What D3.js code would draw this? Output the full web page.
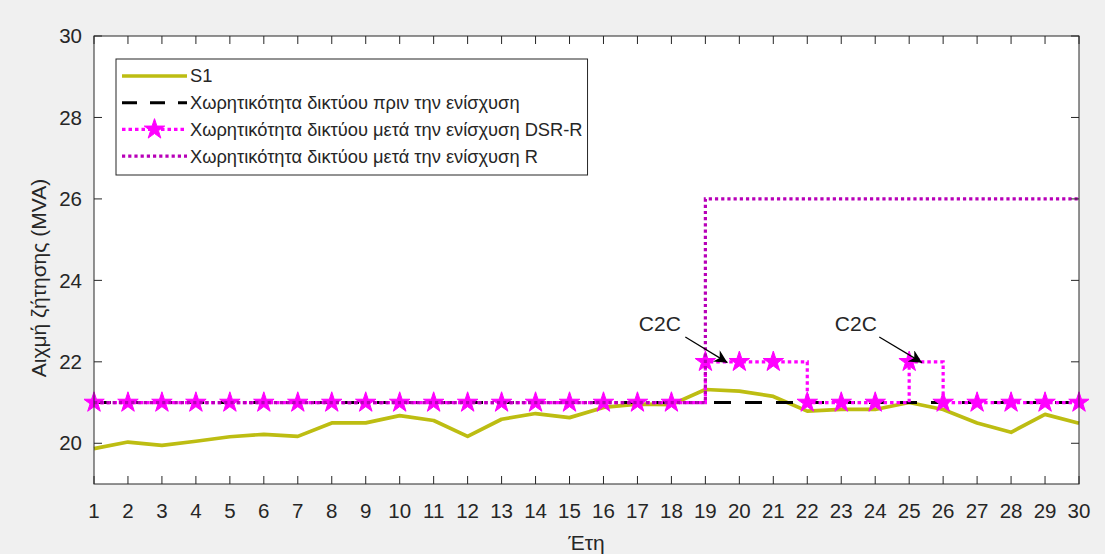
<!DOCTYPE html>
<html>
<head>
<meta charset="utf-8">
<script src="https://cdn.jsdelivr.net/npm/d3@7"></script>
<style>
  html, body { margin: 0; padding: 0; background: #f0f0f0; }
  svg { display: block; }
  text { font-family: "Liberation Sans", Arial, Helvetica, sans-serif; fill: #262626; }
</style>
</head>
<body>
<svg id="chart" width="1105" height="554"></svg>
<script>
// Years on the horizontal axis
const years = d3.range(1, 31);

// Peak demand of scenario S1 (MVA)
const s1 = [19.87, 20.03, 19.95, 20.05, 20.16, 20.22, 20.17, 20.50, 20.50, 20.68,
            20.56, 20.17, 20.59, 20.73, 20.63, 20.88, 20.96, 20.95, 21.32, 21.28,
            21.15, 20.79, 20.83, 20.83, 21.00, 20.83, 20.50, 20.27, 20.71, 20.49];

// Network capacity before reinforcement
const capBefore = [21, 21, 21, 21, 21, 21, 21, 21, 21, 21,
                   21, 21, 21, 21, 21, 21, 21, 21, 21, 21,
                   21, 21, 21, 21, 21, 21, 21, 21, 21, 21];

// Network capacity after DSR-R reinforcement
const capDsrR = [21, 21, 21, 21, 21, 21, 21, 21, 21, 21,
                 21, 21, 21, 21, 21, 21, 21, 21, 22, 22,
                 22, 21, 21, 21, 22, 21, 21, 21, 21, 21];

// Network capacity after R reinforcement
const capR = [21, 21, 21, 21, 21, 21, 21, 21, 21, 21,
              21, 21, 21, 21, 21, 21, 21, 21, 26, 26,
              26, 26, 26, 26, 26, 26, 26, 26, 26, 26];

const yTicks = [20, 22, 24, 26, 28, 30];

const legendLabels = [
  "S1",
  "Χωρητικότητα δικτύου πριν την ενίσχυση",
  "Χωρητικότητα δικτύου μετά την ενίσχυση DSR-R",
  "Χωρητικότητα δικτύου μετά την ενίσχυση R"
];

// Text callouts: label position and arrow from/to, in data units
const callouts = [
  { text: "C2C", tx: 17.66, ty: 22.94, x0: 18.41, y0: 22.61, x1: 19.65, y1: 21.98 },
  { text: "C2C", tx: 23.43, ty: 22.94, x0: 24.12, y0: 22.61, x1: 25.38, y1: 21.98 }
];

const svg = d3.select("#chart");
const plotLeft = 94, plotRight = 1079, plotTop = 36, plotBottom = 484;

const x = d3.scaleLinear().domain([1, 30]).range([plotLeft, plotRight]);
const y = d3.scaleLinear().domain([19, 30]).range([plotBottom, plotTop]);

const defs = svg.append("defs");

// Plot area
svg.append("rect")
  .attr("x", plotLeft).attr("y", plotTop)
  .attr("width", plotRight - plotLeft).attr("height", plotBottom - plotTop)
  .attr("fill", "#ffffff");

defs.append("clipPath").attr("id", "plotclip")
  .append("rect")
  .attr("x", plotLeft - 10).attr("y", plotTop)
  .attr("width", plotRight - plotLeft + 20).attr("height", plotBottom - plotTop);

const plot = svg.append("g").attr("clip-path", "url(#plotclip)");

const lineStraight = d3.line()
  .x((d, i) => x(years[i]))
  .y(d => y(d));

const lineStairs = d3.line()
  .x((d, i) => x(years[i]))
  .y(d => y(d))
  .curve(d3.curveStepAfter);

const colS1 = "#bdbd12", colDsr = "#ff00ff", colR = "#b800b8";

// S1 demand
plot.append("path")
  .datum(s1)
  .attr("d", lineStraight)
  .attr("fill", "none")
  .attr("stroke", colS1)
  .attr("stroke-width", 3.7)
  .attr("stroke-linejoin", "round");

// Capacity before reinforcement
plot.append("path")
  .datum(capBefore)
  .attr("d", lineStairs)
  .attr("fill", "none")
  .attr("stroke", "#000000")
  .attr("stroke-width", 3)
  .attr("stroke-dasharray", "17,14");

// Capacity after DSR-R
plot.append("path")
  .datum(capDsrR)
  .attr("d", lineStairs)
  .attr("fill", "none")
  .attr("stroke", colDsr)
  .attr("stroke-width", 3.2)
  .attr("stroke-dasharray", "3.5,3");

const star = d3.symbol().type(d3.symbolStar).size(130);
plot.append("g").selectAll("path")
  .data(capDsrR)
  .join("path")
  .attr("d", star)
  .attr("transform", (d, i) => `translate(${x(years[i])},${y(d)})`)
  .attr("fill", colDsr)
  .attr("stroke", colDsr)
  .attr("stroke-width", 1);

// Capacity after R
plot.append("path")
  .datum(capR)
  .attr("d", lineStairs)
  .attr("fill", "none")
  .attr("stroke", colR)
  .attr("stroke-width", 3.2)
  .attr("stroke-dasharray", "3.2,3");

// Axes box and inward ticks
const axisColor = "#262626";
const tickLen = 8;
const axes = svg.append("g");
axes.append("rect")
  .attr("x", plotLeft).attr("y", plotTop)
  .attr("width", plotRight - plotLeft).attr("height", plotBottom - plotTop)
  .attr("fill", "none")
  .attr("stroke", axisColor)
  .attr("stroke-width", 1);

const xTickG = axes.append("g");
years.forEach(v => {
  xTickG.append("line")
    .attr("x1", x(v)).attr("x2", x(v))
    .attr("y1", plotBottom).attr("y2", plotBottom - tickLen)
    .attr("stroke", axisColor);
  xTickG.append("line")
    .attr("x1", x(v)).attr("x2", x(v))
    .attr("y1", plotTop).attr("y2", plotTop + tickLen)
    .attr("stroke", axisColor);
  xTickG.append("text")
    .attr("x", x(v)).attr("y", plotBottom + 34)
    .attr("text-anchor", "middle")
    .attr("font-size", "20.5px")
    .text(v);
});

const yTickG = axes.append("g");
yTicks.forEach(v => {
  yTickG.append("line")
    .attr("x1", plotLeft).attr("x2", plotLeft + tickLen)
    .attr("y1", y(v)).attr("y2", y(v))
    .attr("stroke", axisColor);
  yTickG.append("line")
    .attr("x1", plotRight).attr("x2", plotRight - tickLen)
    .attr("y1", y(v)).attr("y2", y(v))
    .attr("stroke", axisColor);
  yTickG.append("text")
    .attr("x", plotLeft - 12).attr("y", y(v))
    .attr("dy", "0.35em")
    .attr("text-anchor", "end")
    .attr("font-size", "20.5px")
    .text(v);
});

// Axis titles
svg.append("text")
  .attr("x", (plotLeft + plotRight) / 2).attr("y", 550)
  .attr("text-anchor", "middle")
  .attr("font-size", "21px")
  .text("Έτη");

svg.append("text")
  .attr("transform", `translate(46,${(plotTop + plotBottom) / 2 + 18}) rotate(-90)`)
  .attr("text-anchor", "middle")
  .attr("font-size", "21px")
  .text("Αιχμή ζήτησης (MVA)");

// Callouts with arrows
defs.append("marker")
  .attr("id", "arrowhead")
  .attr("viewBox", "0 0 10 10")
  .attr("refX", 10).attr("refY", 5)
  .attr("markerUnits", "userSpaceOnUse")
  .attr("markerWidth", 18).attr("markerHeight", 13)
  .attr("orient", "auto")
  .append("path")
  .attr("d", "M0,0 L10,5 L0,10 L3,5 Z")
  .attr("fill", "#000");

const callG = svg.append("g");
callouts.forEach(c => {
  callG.append("text")
    .attr("x", x(c.tx)).attr("y", y(c.ty))
    .attr("dy", "0.35em")
    .attr("text-anchor", "middle")
    .attr("font-size", "21px")
    .text(c.text);
  callG.append("line")
    .attr("x1", x(c.x0)).attr("y1", y(c.y0))
    .attr("x2", x(c.x1)).attr("y2", y(c.y1))
    .attr("stroke", "#000")
    .attr("stroke-width", 1.2)
    .attr("marker-end", "url(#arrowhead)");
});

// Legend
const legX = 116, legY = 59, rowH = 26.7;
const legend = svg.append("g");
const legBox = legend.append("rect")
  .attr("x", legX).attr("y", legY)
  .attr("height", 116)
  .attr("fill", "#ffffff")
  .attr("stroke", axisColor)
  .attr("stroke-width", 1);

const rowY = i => legY + 17 + i * rowH;
const sx0 = legX + 6, sx1 = legX + 71;

legend.append("line")
  .attr("x1", sx0).attr("x2", sx1).attr("y1", rowY(0)).attr("y2", rowY(0))
  .attr("stroke", colS1).attr("stroke-width", 3.7);
legend.append("line")
  .attr("x1", sx0).attr("x2", sx1).attr("y1", rowY(1)).attr("y2", rowY(1))
  .attr("stroke", "#000").attr("stroke-width", 3).attr("stroke-dasharray", "15,13");
legend.append("line")
  .attr("x1", sx0).attr("x2", sx1).attr("y1", rowY(2)).attr("y2", rowY(2))
  .attr("stroke", colDsr).attr("stroke-width", 3.2).attr("stroke-dasharray", "3.5,3");
legend.append("path")
  .attr("d", star)
  .attr("transform", `translate(${(sx0 + sx1) / 2},${rowY(2)})`)
  .attr("fill", colDsr).attr("stroke", colDsr);
legend.append("line")
  .attr("x1", sx0).attr("x2", sx1).attr("y1", rowY(3)).attr("y2", rowY(3))
  .attr("stroke", colR).attr("stroke-width", 3.2).attr("stroke-dasharray", "3.2,3");

let maxW = 0;
legendLabels.forEach((t, i) => {
  const tx = legend.append("text")
    .attr("x", sx1 + 3).attr("y", rowY(i))
    .attr("dy", "0.35em")
    .attr("font-size", "18.3px")
    .text(t);
  maxW = Math.max(maxW, tx.node().getComputedTextLength());
});
legBox.attr("width", (sx1 + 3 + maxW + 5) - legX);
</script>
</body>
</html>
